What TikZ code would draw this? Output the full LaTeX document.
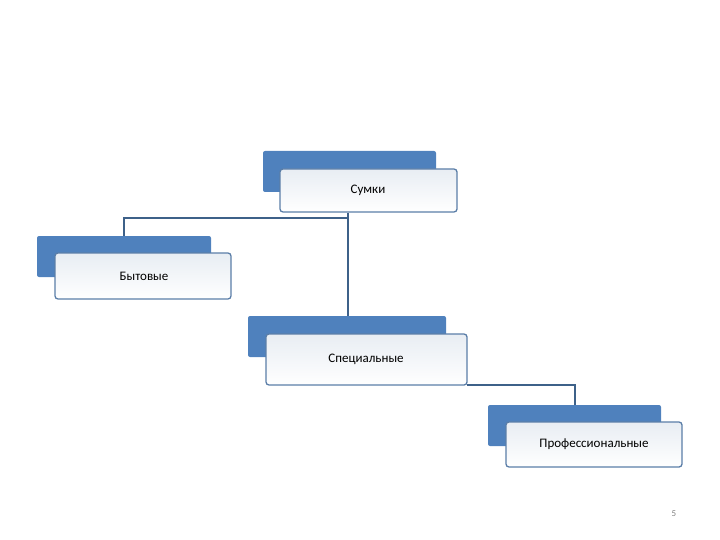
\documentclass[tikz,border=0pt]{standalone}
\usepackage{fontspec}
\setmainfont{Carlito}
\definecolor{bluebox}{HTML}{4F81BD}
\definecolor{edgec}{HTML}{5B7EA8}
\definecolor{linec}{HTML}{3E6189}
\definecolor{topfill}{HTML}{E8EDF3}
\begin{document}
\begin{tikzpicture}[x=1pt,y=-1pt,
  back/.style={fill=bluebox,rounded corners=2pt},
  front/.style={draw=edgec,line width=1.3pt,rounded corners=3pt,top color=topfill,bottom color=white,shading angle=0},
  lbl/.style={font=\fontsize{13}{15}\selectfont},
  conn/.style={draw=linec,line width=1.3pt}]
\useasboundingbox (0,0) rectangle (720,540);
% Сумки
\fill[back] (263,151) rectangle (436,192);
\path[front] (280,169) rectangle (457,212);
\node[lbl] (s) at (368,190) {Сумки};
% Бытовые
\fill[back] (37,236) rectangle (211,277);
\path[front] (55,253) rectangle (231,299);
\node[lbl] (b) at (144,276) {Бытовые};
% Специальные
\fill[back] (248,316) rectangle (446,357);
\path[front] (266,334) rectangle (467,385);
\node[lbl] (sp) at (366,359) {Специальные};
% Профессиональные
\fill[back] (488,405) rectangle (661,446);
\path[front] (506,422) rectangle (682,467);
\node[lbl] (p) at (594,444) {Профессиональные};
\coordinate (c1) at (348,213);
\coordinate (c2) at (348,316);
\coordinate (c3) at (124,236);
\coordinate (c4) at (467,385);
\coordinate (c5) at (575,405);
\draw[conn] (c1) -- (c2);
\draw[conn] (348,218) -| (c3);
\draw[conn] (c4) -| (c5);
\node[font=\fontsize{9}{10}\selectfont,text=gray] (n) at (674,514) {5};
\end{tikzpicture}
\end{document}
